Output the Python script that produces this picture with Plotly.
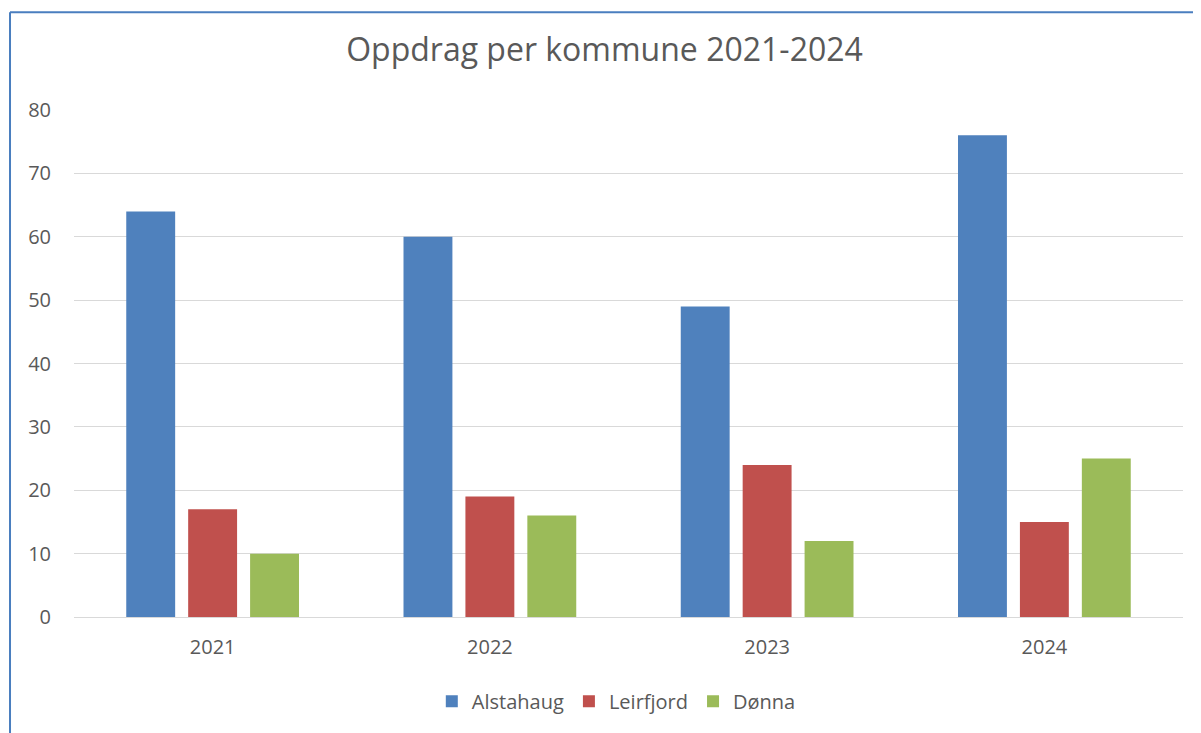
import plotly.graph_objects as go

years = ["2021", "2022", "2023", "2024"]
alstahaug = [64, 60, 49, 76]
leirfjord = [17, 19, 24, 15]
donna = [10, 16, 12, 25]

BLUE = "#4F81BD"
RED = "#C0504D"
GREEN = "#9BBB59"
TEXT = "#595959"
FONT = "Open Sans"

# page body has an 8px margin, so the figure is sized and offset to suit
W, H = 1193, 725

fig = go.Figure()
for name, vals, color in [
    ("Alstahaug", alstahaug, BLUE),
    ("Leirfjord", leirfjord, RED),
    ("Dønna", donna, GREEN),
]:
    fig.add_trace(go.Bar(x=years, y=vals, name=name, marker_color=color, marker_line_width=0))

fig.update_layout(
    width=W,
    height=H,
    margin=dict(l=66, r=18, t=102, b=116),
    paper_bgcolor="white",
    plot_bgcolor="white",
    font=dict(family=FONT, color=TEXT, size=20),
    title=dict(text="Oppdrag per kommune 2021-2024", x=0.5, xanchor="center",
               y=1 - 42 / H, yanchor="middle", font=dict(size=32, color=TEXT)),
    barmode="group",
    bargap=0.33,
    bargroupgap=0.21,
    showlegend=True,
    legend=dict(orientation="h", x=0.489, xanchor="center", y=-0.166, yanchor="middle",
                font=dict(size=20, color=TEXT), traceorder="normal"),
    xaxis=dict(showgrid=False, showline=True, linecolor="#D9D9D9", linewidth=1,
               ticks="", ticklabelstandoff=12, tickfont=dict(size=20)),
    yaxis=dict(range=[0, 80], dtick=10, showgrid=True, gridcolor="#D9D9D9", gridwidth=1,
               zeroline=False, ticks="", ticklabelstandoff=22, tickfont=dict(size=20)),
)

fig.add_shape(type="line", xref="paper", yref="paper", x0=-0.0577, x1=-0.0577,
              y0=-0.25, y1=1.193, line=dict(color="#4A7EBF", width=2))
fig.add_shape(type="line", xref="paper", yref="paper", x0=-0.0577, x1=1.02,
              y0=1.193, y1=1.193, line=dict(color="#4A7EBF", width=2))

fig.write_html("out.html")
